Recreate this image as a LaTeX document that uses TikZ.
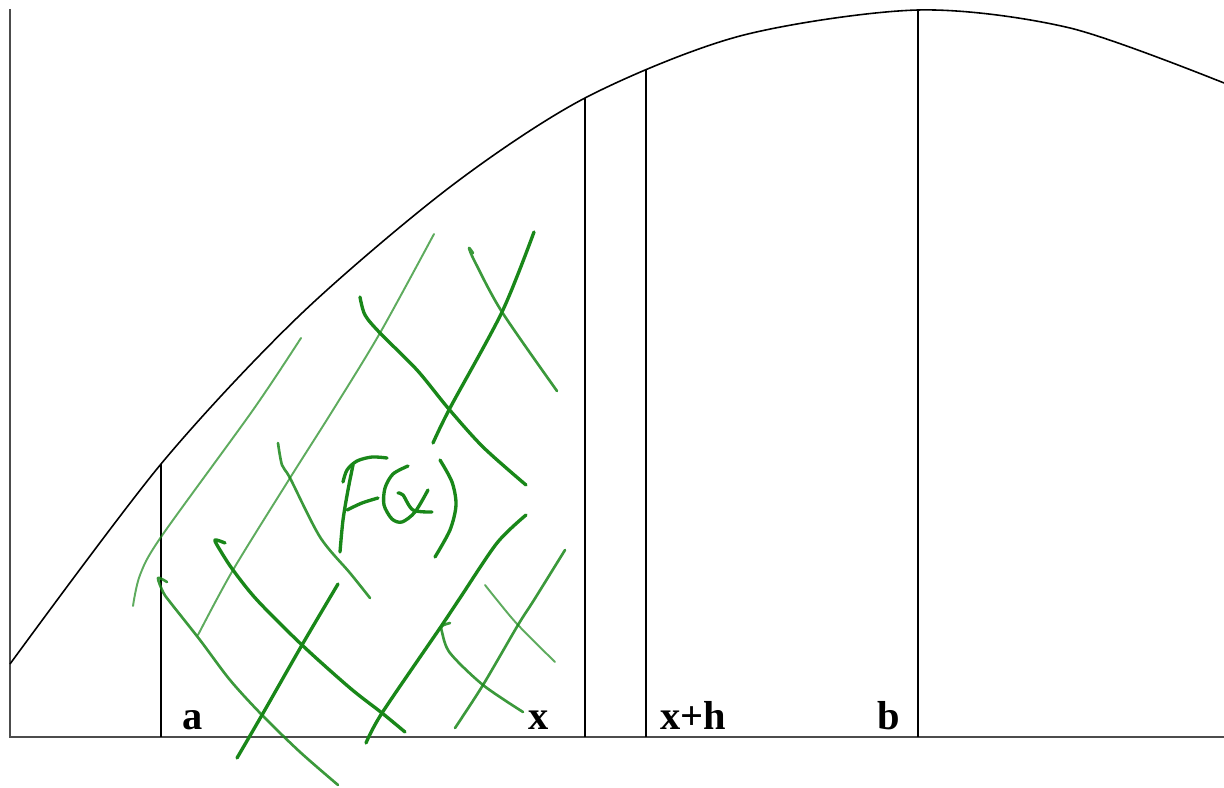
\documentclass[tikz,border=0pt]{standalone}
\usepackage{fontspec}
\setmainfont{Liberation Serif}
\definecolor{inkgreen}{RGB}{25,135,25}
\usepackage{tikz}

\begin{document}
\begin{tikzpicture}[x=0.01cm,y=-0.01cm,
  axis/.style={draw=black!70,line width=0.45pt},
  graph/.style={draw=black,line width=0.45pt},
  ink/.style={draw=inkgreen,line width=0.95pt,line cap=round,line join=round},
  inkmid/.style={ink,line width=0.75pt,draw opacity=0.85},
  inklight/.style={ink,line width=0.55pt,draw opacity=0.7},
  lbl/.style={anchor=base,inner sep=0pt,font=\fontsize{11.5}{13}\selectfont\bfseries}]
  \useasboundingbox (0,0) rectangle (1224,788);
  % axes
  \coordinate (top) at (10,9);
  \coordinate (orig) at (10,737);
  \coordinate (right) at (1224,737);
  \draw[axis] (top) -- (orig) -- (right);
  % the graph
  \draw[graph] plot[smooth] coordinates {(10,664) (161,464) (300,315) (450,187)
    (585,98) (740,36) (918,10) (1070,28) (1224,83)};
  % ordinates at a, x, x+h, b
  \coordinate (ca)  at (161,464);  \coordinate (ba)  at (161,737);
  \coordinate (cx)  at (585,98);   \coordinate (bx)  at (585,737);
  \coordinate (cxh) at (646,70);   \coordinate (bxh) at (646,737);
  \coordinate (cb)  at (918,10);   \coordinate (bb)  at (918,737);
  \foreach \p in {a,x,xh,b}
    \draw[graph] (b\p) -- (c\p);
  \node[lbl] (la)  at (193,729) {a};
  \node[lbl] (lx)  at (539,729) {x};
  \node[lbl] (lxh) at (693,729) {x+h};
  \node[lbl] (lb)  at (889,729) {b};
  % hatching of the area
  \draw[inklight] plot[smooth] coordinates {(301,338) (253,410) (161,537) (140,575) (133,606)};
  \draw[inklight] plot[smooth] coordinates {(434,234) (380,333) (333,410) (290,478) (233,570) (198,635)};
  \draw[ink] plot[smooth] coordinates {(338,584) (302,645) (262,715) (237,758)};
  \draw[inkmid] plot[smooth] coordinates {(167,582) (158,578) (163,592) (170,602) (200,640) (230,680) (262,715) (300,752) (338,785)};
  \draw[ink] plot[smooth] coordinates {(225,543) (215,540) (220,550) (233,570) (257,600) (302,645) (350,688) (382,713) (405,732)};
  \draw[inkmid] plot[smooth] coordinates {(278,443) (282,465) (290,478) (320,537) (350,573) (370,598)};
  \draw[ink] plot[smooth] coordinates {(360,297) (365,315) (380,333) (417,370) (448,408) (483,447) (526,485)};
  \draw[ink] plot[smooth] coordinates {(534,232) (502,312) (450,408) (433,443)};
  \draw[inkmid] plot[smooth] coordinates {(473,253) (469,248) (475,262) (502,312) (557,391)};
  \draw[ink] plot[smooth] coordinates {(526,515) (497,543) (460,598) (440,628) (382,713) (366,743)};
  \draw[inkmid] plot[smooth] coordinates {(565,550) (534,600) (518,625) (483,685) (455,728)};
  \draw[inkmid] plot[smooth] coordinates {(450,623) (442,626) (442,632) (450,653) (483,685) (523,712)};
  \draw[inklight] plot[smooth] coordinates {(485,585) (497,600) (518,625) (555,662)};
  % F(x) written by hand
  \draw[ink] plot[smooth] coordinates {(353,465) (348,490) (343,520) (340,552)};
  \draw[ink] plot[smooth] coordinates {(343,482) (347,470) (357,461) (372,457) (387,458)};
  \draw[ink] plot[smooth] coordinates {(347,510) (362,503) (378,498)};
  \draw[ink] plot[smooth] coordinates {(408,466) (393,474) (385,488) (384,505) (392,519) (402,522) (415,512) (428,490)};
  \draw[ink] plot[smooth] coordinates {(398,493) (403,495) (413,510) (432,512)};
  \draw[ink] plot[smooth] coordinates {(440,460) (452,482) (456,505) (450,530) (435,557)};
\end{tikzpicture}
\end{document}
